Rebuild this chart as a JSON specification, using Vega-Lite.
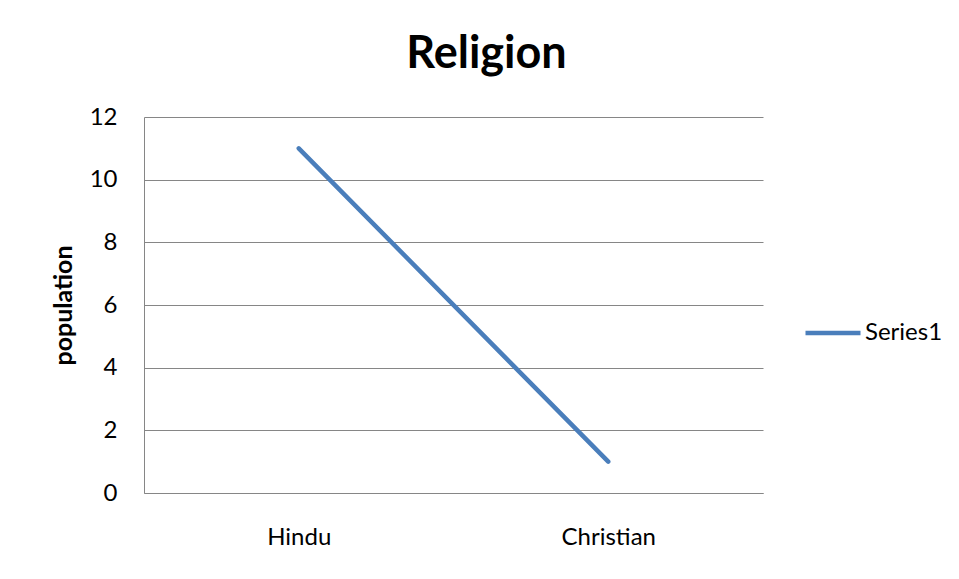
{
  "$schema": "https://vega.github.io/schema/vega-lite/v6.json",
  "width": 619,
  "height": 376,
  "autosize": "none",
  "padding": {"left": 144, "top": 117, "right": 196, "bottom": 86},
  "background": "white",
  "title": {
    "text": "Religion",
    "font": "Lato",
    "fontSize": 45,
    "fontWeight": "bold",
    "color": "#000000",
    "anchor": "middle",
    "dx": 33,
    "offset": 28
  },
  "data": {
    "values": [
      {"religion": "Hindu", "population": 11, "series": "Series1"},
      {"religion": "Christian", "population": 1, "series": "Series1"}
    ]
  },
  "mark": {"type": "line", "strokeWidth": 4.5, "strokeCap": "round"},
  "encoding": {
    "x": {
      "field": "religion",
      "type": "nominal",
      "sort": ["Hindu", "Christian"],
      "scale": {"paddingInner": 0, "paddingOuter": 0},
      "axis": {
        "title": null,
        "labelAngle": 0,
        "ticks": false,
        "grid": false,
        "labelPadding": 32,
        "domainColor": "#868686"
      }
    },
    "y": {
      "field": "population",
      "type": "quantitative",
      "scale": {"domain": [0, 12], "nice": false},
      "axis": {
        "title": "population",
        "titleFontWeight": "bold",
        "titleFontSize": 25,
        "titlePadding": 13,
        "values": [0, 2, 4, 6, 8, 10, 12],
        "ticks": false,
        "labelPadding": 27,
        "gridColor": "#868686",
        "domainColor": "#868686"
      }
    },
    "color": {
      "field": "series",
      "type": "nominal",
      "scale": {"range": ["#4A7EBB"]},
      "legend": {
        "title": null,
        "orient": "none",
        "legendX": 659,
        "legendY": 186,
        "symbolType": "stroke",
        "symbolSize": 3025,
        "symbolStrokeWidth": 4.5,
        "labelFontSize": 24,
        "labelOffset": 2
      }
    }
  },
  "config": {
    "font": "Lato",
    "view": {"stroke": null},
    "axis": {
      "labelFont": "Lato",
      "labelFontSize": 24,
      "labelColor": "#000000",
      "titleColor": "#000000",
      "titleFont": "Lato",
      "gridOpacity": 1,
      "domainWidth": 1
    },
    "legend": {"labelFont": "Lato", "labelColor": "#000000"}
  }
}
